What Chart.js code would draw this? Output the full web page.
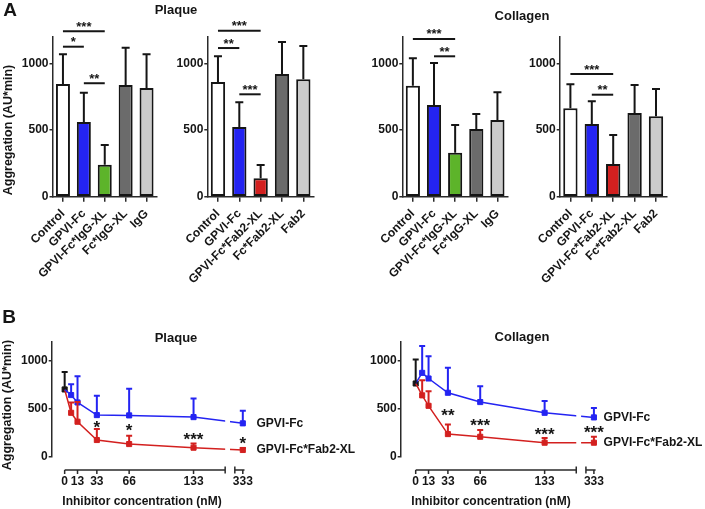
<!DOCTYPE html>
<html><head><meta charset="utf-8">
<script src="https://cdn.jsdelivr.net/npm/chart.js@4.4.1/dist/chart.umd.min.js"></script>
<style>
html,body{margin:0;padding:0;background:#fff;}
#wrap{position:relative;width:705px;height:509px;overflow:hidden;font-family:"Liberation Sans",Arial,sans-serif;font-weight:bold;color:#151515;}
canvas{position:absolute;left:0;top:0;}
.t{position:absolute;white-space:nowrap;line-height:1;transform:translate(-50%,-50%);}
.r{transform:translate(-50%,-50%) rotate(-90deg);}
</style></head><body><div id="wrap">
<canvas id="a1" width="705" height="509"></canvas>
<canvas id="a2" width="705" height="509"></canvas>
<canvas id="a3" width="705" height="509"></canvas>
<canvas id="a4" width="705" height="509"></canvas>
<canvas id="b1" width="705" height="509"></canvas>
<canvas id="b2" width="705" height="509"></canvas>
<div class="t" style="left:10px;top:9px;font-size:19px">A</div>
<div class="t" style="left:9px;top:316px;font-size:19px">B</div>
<div class="t" style="left:176px;top:9px;font-size:13px">Plaque</div>
<div class="t" style="left:522px;top:15px;font-size:13px">Collagen</div>
<div class="t" style="left:176px;top:337px;font-size:13px">Plaque</div>
<div class="t" style="left:522px;top:336px;font-size:13px">Collagen</div>
<div class="t r" style="left:8px;top:130px;font-size:12.5px">Aggregation (AU*min)</div>
<div class="t r" style="left:7px;top:405px;font-size:12.5px">Aggregation (AU*min)</div>
<div class="t" style="left:142px;top:501px;font-size:12px">Inhibitor concentration (nM)</div>
<div class="t" style="left:491px;top:501px;font-size:12px">Inhibitor concentration (nM)</div>
</div>
<script>
// ---------- data ----------
const catsIgG = ['Control','GPVI-Fc','GPVI-Fc*IgG-XL','Fc*IgG-XL','IgG'];
const catsFab2 = ['Control','GPVI-Fc','GPVI-Fc*Fab2-XL','Fc*Fab2-XL','Fab2'];
const plaqueIgGMean = [845,560,240,838,815];
const plaqueIgGSD   = [223,220,148,280,253];
const plaqueFab2Mean = [860,523,138,920,880];
const plaqueFab2SD   = [193,185,100,240,250];
const collagenIgGMean = [833,688,330,508,575];
const collagenIgGSD   = [205,315,208,112,208];
const collagenFab2Mean = [663,545,245,628,603];
const collagenFab2SD   = [180,170,218,210,205];
// significance: [from index, to index, bracket level, stars]
const plaqueIgGSig = [[0,2,1241,'***'],[0,1,1125,'*'],[1,2,851,'**']];
const plaqueFab2Sig = [[0,2,1245,'***'],[0,1,1115,'**'],[1,2,768,'***']];
const collagenIgGSig = [[0,2,1183,'***'],[1,2,1053,'**']];
const collagenFab2Sig = [[0,2,920,'***'],[1,2,765,'**']];
const yTicks = [0,500,1000];

const concentrations = [6.7,13.3,33.3,66.7,133.3,333];
const concTickValues = [0,13.3,33.3,66.7,133.3,333];
const concTickLabels = ['0','13','33','66','133','333'];
const plaqueControl = 702, plaqueControlSD = 183;
const plaqueFcMean = [643,566,434,431,413,348];
const plaqueFcSD   = [114,274,201,277,195,131];
const plaqueXLMean = [458,365,174,132,94,70];
const plaqueXLSD   = [108,205,114,87,45,20];
const collagenControl = 764, collagenControlSD = 251;
const collagenFcMean = [875,816,667,570,458,410];
const collagenFcSD   = [281,233,260,166,122,97];
const collagenXLMean = [640,531,236,208,146,146];
const collagenXLSD   = [159,153,101,70,49,62];
// stars: [concentration, level, text]
const plaqueStars = [[33.3,350,'*'],[66.7,313,'*'],[133.3,226,'***'],[333,179,'*']];
const collagenStars = [[33.3,478,'**'],[66.7,374,'***'],[133.3,278,'***'],[333,295,'***']];

// ---------- styling ----------
const FONT = '"Liberation Sans", Arial, sans-serif';
const INK = '#151515', AXIS = '#2a2a2a';
const BLUE = '#2424f2', RED = '#d3201f', GREEN = '#5db42a', DGREY = '#6b6b6b', LGREY = '#cbcbcb';
const W = 705, H = 509;
const colorsIgG = ['#ffffff', BLUE, GREEN, DGREY, LGREY];
const colorsFab2 = ['#ffffff', BLUE, RED, DGREY, LGREY];

// broken concentration axis
const BREAK_START = 166, BREAK_GAP = 10, X_END = 186;
function axisPos(c){ return c <= BREAK_START ? c : BREAK_START + BREAK_GAP + (c - 300) * 0.25; }

const barErrPlugin = {
  id:'barErr',
  afterDatasetsDraw(chart){
    const ctx = chart.ctx, y = chart.scales.y;
    chart.data.datasets.forEach((ds,di)=>{
      chart.getDatasetMeta(di).data.forEach((el,i)=>{
        const top = y.getPixelForValue(ds.data[i] + ds.errors[i]);
        ctx.save(); ctx.strokeStyle = INK; ctx.lineWidth = 2;
        ctx.beginPath(); ctx.moveTo(el.x, el.y); ctx.lineTo(el.x, top);
        ctx.moveTo(el.x-4, top); ctx.lineTo(el.x+4, top); ctx.stroke(); ctx.restore();
      });
    });
  }
};
const sigPlugin = {
  id:'sig',
  afterDraw(chart, args, opts){
    const ctx = chart.ctx, x = chart.scales.x, y = chart.scales.y;
    (opts.items||[]).forEach(([a,b,lvl,txt])=>{
      const xa = x.getPixelForValue(a), xb = x.getPixelForValue(b), yp = y.getPixelForValue(lvl);
      ctx.save(); ctx.strokeStyle = INK; ctx.lineWidth = 2;
      ctx.beginPath(); ctx.moveTo(xa, yp); ctx.lineTo(xb, yp); ctx.stroke();
      ctx.fillStyle = INK; ctx.font = 'bold 13px ' + FONT; ctx.textAlign = 'center'; ctx.textBaseline = 'alphabetic';
      ctx.fillText(txt, (xa+xb)/2, yp - 0.5);
      ctx.restore();
    });
  }
};

const tickFont = {family:FONT, size:12, weight:'bold'};

function barChart(id, cats, means, sds, colors, sigs, area){
  const YW = 50, XH = 100;
  new Chart(document.getElementById(id), {
    type:'bar',
    data:{labels:cats, datasets:[{data:means, errors:sds, backgroundColor:colors, borderColor:INK, borderWidth:2, borderSkipped:false, barPercentage:0.67, categoryPercentage:1}]},
    options:{
      responsive:false, animation:false, devicePixelRatio:1,
      layout:{autoPadding:false, padding:{left:area.l-YW, top:area.t, right:W-area.r, bottom:H-area.b-XH}},
      plugins:{legend:{display:false}, tooltip:{enabled:false}, sig:{items:sigs}},
      scales:{
        x:{ afterFit(s){ s.height = XH; },
            grid:{display:true, offset:false, drawOnChartArea:false, drawTicks:true, tickLength:5, color:AXIS, lineWidth:1.5},
            border:{display:true, color:AXIS, width:1.5},
            ticks:{font:tickFont, color:INK, maxRotation:45, minRotation:45, padding:5, autoSkip:false}},
        y:{ min:0, max:1200, afterFit(s){ s.width = YW; },
            afterBuildTicks(s){ s.ticks = yTicks.map(v=>({value:v})); },
            grid:{drawOnChartArea:false, drawTicks:true, tickLength:3, color:AXIS, lineWidth:1.5},
            border:{display:true, color:AXIS, width:1.5},
            ticks:{font:tickFont, color:INK, padding:1, callback:v=>String(v)}}
      }
    },
    plugins:[barErrPlugin, sigPlugin]
  });
}

barChart('a1', catsIgG, plaqueIgGMean, plaqueIgGSD, colorsIgG, plaqueIgGSig, {l:52.5, r:157, t:36.7, b:196.7});
barChart('a2', catsFab2, plaqueFab2Mean, plaqueFab2SD, colorsFab2, plaqueFab2Sig, {l:207.3, r:314, t:36.7, b:196.7});
barChart('a3', catsIgG, collagenIgGMean, collagenIgGSD, colorsIgG, collagenIgGSig, {l:402.3, r:508, t:36.7, b:196.7});
barChart('a4', catsFab2, collagenFab2Mean, collagenFab2SD, colorsFab2, collagenFab2Sig, {l:559.7, r:666.7, t:36.7, b:196.7});

// ---------- dose response ----------
const gapClipPlugin = {
  id:'gapClip',
  beforeDatasetsDraw(chart){
    const x = chart.scales.x, ctx = chart.ctx;
    const g1 = x.getPixelForValue(BREAK_START), g2 = x.getPixelForValue(BREAK_START + 5);
    ctx.save(); ctx.beginPath();
    ctx.rect(0, 0, g1, H); ctx.rect(g2, 0, W - g2, H); ctx.clip();
  },
  afterDatasetsDraw(chart){ chart.ctx.restore(); }
};
const lineErrPlugin = {
  id:'lineErr',
  afterDraw(chart){
    const ctx = chart.ctx, y = chart.scales.y;
    chart.data.datasets.forEach((ds,di)=>{
      const meta = chart.getDatasetMeta(di);
      meta.data.forEach((el,i)=>{
        const e = ds.errors[i]; if (e == null) return;
        const top = y.getPixelForValue(ds.data[i].y + e);
        ctx.save(); ctx.strokeStyle = ds.borderColor; ctx.lineWidth = 2;
        ctx.beginPath(); ctx.moveTo(el.x, el.y); ctx.lineTo(el.x, top);
        ctx.moveTo(el.x-3, top); ctx.lineTo(el.x+3, top); ctx.stroke(); ctx.restore();
      });
    });
  }
};
const brokenAxisPlugin = {
  id:'brokenAxis',
  afterDraw(chart, args, opts){
    const x = chart.scales.x, ctx = chart.ctx;
    const ya = chart.chartArea.bottom + 13.3;
    const p = v => x.getPixelForValue(v);
    ctx.save(); ctx.strokeStyle = AXIS; ctx.lineWidth = 1.5; ctx.beginPath();
    ctx.moveTo(p(0), ya); ctx.lineTo(p(BREAK_START), ya);
    ctx.moveTo(p(BREAK_START), ya-3.5); ctx.lineTo(p(BREAK_START), ya+3.5);
    ctx.moveTo(p(BREAK_START+BREAK_GAP), ya); ctx.lineTo(p(X_END), ya);
    ctx.moveTo(p(BREAK_START+BREAK_GAP), ya-3.5); ctx.lineTo(p(BREAK_START+BREAK_GAP), ya+3.5);
    concTickValues.forEach(v=>{ const px = p(axisPos(v)); ctx.moveTo(px, ya); ctx.lineTo(px, ya+4); });
    ctx.stroke();
    // stars
    const y = chart.scales.y;
    ctx.fillStyle = INK; ctx.font = 'bold 17px ' + FONT; ctx.textAlign = 'center'; ctx.textBaseline = 'alphabetic';
    (opts.stars||[]).forEach(([c,lvl,txt])=>{ ctx.fillText(txt, p(axisPos(c)), y.getPixelForValue(lvl) + 9.7); });
    // series names
    ctx.font = 'bold 12px ' + FONT; ctx.textAlign = 'left'; ctx.textBaseline = 'middle';
    (opts.names||[]).forEach(([di,txt])=>{
      const ds = chart.data.datasets[di]; const last = ds.data[ds.data.length-1];
      ctx.fillText(txt, chart.chartArea.right + opts.nameOffset, y.getPixelForValue(last.y));
    });
    ctx.restore();
  }
};

function doseChart(id, ctrl, ctrlSD, fcMean, fcSD, xlMean, xlSD, stars, area, xMin, nameOffset){
  const YW = 50, XH = 40;
  const pts = m => [{x:axisPos(0), y:ctrl}].concat(concentrations.map((c,i)=>({x:axisPos(c), y:m[i]})));
  const radii = [0].concat(concentrations.map(()=>3.6));
  const series = (m, sd, col) => ({data:pts(m), errors:[null].concat(sd), borderColor:col, backgroundColor:col,
      borderWidth:1.5, pointStyle:'rect', pointRadius:radii, pointBorderWidth:1, tension:0, clip:false});
  new Chart(document.getElementById(id), {
    type:'line',
    data:{datasets:[
      series(fcMean, fcSD, BLUE),
      series(xlMean, xlSD, RED),
      {data:[{x:axisPos(0), y:ctrl}], errors:[ctrlSD], borderColor:INK, backgroundColor:INK, pointStyle:'rect', pointRadius:3.6, pointBorderWidth:1, showLine:false, clip:false}
    ]},
    options:{
      responsive:false, animation:false, devicePixelRatio:1,
      layout:{autoPadding:false, padding:{left:area.l-YW, top:area.t, right:W-area.r, bottom:H-area.b-XH}},
      plugins:{legend:{display:false}, tooltip:{enabled:false},
        brokenAxis:{stars:stars, names:[[0,'GPVI-Fc'],[1,'GPVI-Fc*Fab2-XL']], nameOffset:nameOffset}},
      scales:{
        x:{ type:'linear', min:xMin, max:X_END, afterFit(s){ s.height = XH; },
            afterBuildTicks(s){ s.ticks = concTickValues.map(v=>({value:axisPos(v)})); },
            grid:{display:false, drawTicks:false}, border:{display:false},
            ticks:{font:tickFont, color:INK, padding:18, maxRotation:0, autoSkip:false,
                   callback:(v,i)=>concTickLabels[i]}},
        y:{ min:0, max:1200, afterFit(s){ s.width = YW; },
            afterBuildTicks(s){ s.ticks = yTicks.map(v=>({value:v})); },
            grid:{drawOnChartArea:false, drawTicks:true, tickLength:3, color:AXIS, lineWidth:1.5},
            border:{display:true, color:AXIS, width:1.5},
            ticks:{font:tickFont, color:INK, padding:1, callback:v=>String(v)}}
      }
    },
    plugins:[gapClipPlugin, lineErrPlugin, brokenAxisPlugin]
  });
}

doseChart('b1', plaqueControl, plaqueControlSD, plaqueFcMean, plaqueFcSD, plaqueXLMean, plaqueXLSD, plaqueStars,
          {l:51.7, r:244.5, t:341.7, b:456.7}, -13.4, 12);
doseChart('b2', collagenControl, collagenControlSD, collagenFcMean, collagenFcSD, collagenXLMean, collagenXLSD, collagenStars,
          {l:400.7, r:595.6, t:341.7, b:456.7}, -15.5, 8);
</script>
</body></html>
